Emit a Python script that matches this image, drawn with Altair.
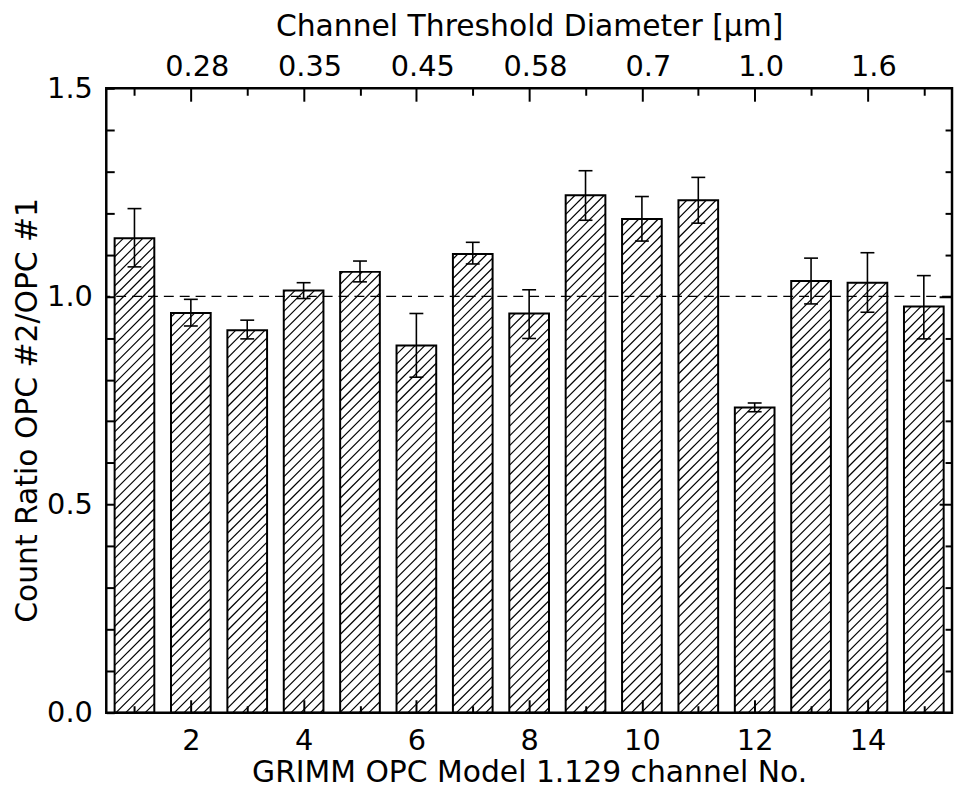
import math
import altair as alt
import pandas as pd

# ---------------- data ----------------
channels = list(range(1, 16))
ratio = [1.140, 0.960, 0.919, 1.014, 1.059, 0.882, 1.102, 0.959,
         1.243, 1.186, 1.231, 0.733, 1.037, 1.033, 0.976]
err_low = [1.071, 0.929, 0.898, 0.995, 1.035, 0.806, 1.078, 0.899,
           1.183, 1.133, 1.176, 0.723, 0.982, 0.962, 0.898]
err_high = [1.211, 0.993, 0.943, 1.033, 1.085, 0.959, 1.130, 1.016,
            1.302, 1.240, 1.286, 0.744, 1.092, 1.105, 1.050]
diam_channels = [2, 4, 6, 8, 10, 12, 14]
diam_labels = ["0.28", "0.35", "0.45", "0.58", "0.7", "1.0", "1.6"]
major_channels = [2, 4, 6, 8, 10, 12, 14]
minor_channels = [1, 3, 5, 7, 9, 11, 13, 15]
ref_level = [1.0]

# ---------------- layout / style ----------------
W, H = 852, 629
X_DOM = [0.5, 15.5]
Y_DOM = [0.0, 1.5]
BAR_HALF = 0.352          # half bar width, channel units
HATCH_PX = 9.8            # hatch spacing (px)
FONT = "DejaVu Sans"
LBL = 29
TTL = 30

bars = pd.DataFrame({"channel": channels, "ratio": ratio,
                     "low": err_low, "high": err_high})
bars["x0"] = bars["channel"] - BAR_HALF
bars["x1"] = bars["channel"] + BAR_HALF
bars["zero"] = 0.0

caps = pd.DataFrame({"channel": channels * 2, "cap": err_low + err_high})

# hatch segments ("/" at 45 degrees) clipped to each bar
sx = W / (X_DOM[1] - X_DOM[0])
sy = H / (Y_DOM[1] - Y_DOM[0])
rows = []
for c, r in zip(channels, ratio):
    X0 = (c - BAR_HALF - X_DOM[0]) * sx
    X1 = (c + BAR_HALF - X_DOM[0]) * sx
    Hp = r * sy
    k0 = math.floor((X0 - Hp) / HATCH_PX)
    k1 = math.ceil(X1 / HATCH_PX)
    for k in range(k0, k1 + 1):
        off = k * HATCH_PX
        xa = max(X0, off)
        xb = min(X1, off + Hp)
        if xb - xa > 0.3:
            rows.append({"hx": X_DOM[0] + xa / sx, "hx2": X_DOM[0] + xb / sx,
                         "hy": (xa - off) / sy, "hy2": (xb - off) / sy})
hatch = pd.DataFrame(rows)

xs = alt.Scale(domain=X_DOM, nice=False, zero=False)
ys = alt.Scale(domain=Y_DOM, nice=False, zero=False)

y_ticks_all = [round(i * 0.1, 1) for i in range(16)]
y_minor = [v for v in y_ticks_all if abs(v * 2 - round(v * 2)) > 1e-6]
y_major_right = [0.5, 1.0]

top_expr = "[%s][indexof([%s], datum.value)]" % (
    ",".join("'%s'" % s for s in diam_labels),
    ",".join(str(v) for v in diam_channels))
left_expr = "abs(datum.value*2 - round(datum.value*2)) < 0.001 ? format(datum.value, '.1f') : ''"

common = dict(grid=False, domain=False, tickColor="black", tickWidth=2,
              labelFont=FONT, labelFontSize=LBL, labelColor="black",
              titleFont=FONT, titleFontSize=TTL, titleFontWeight="normal",
              titleColor="black", zindex=2)

ax_bottom_major = alt.Axis(orient="bottom", values=major_channels, tickSize=13, offset=-13,
                           format="d", labelPadding=37, labelBaseline="alphabetic",
                           labelFlush=False,
                           title="GRIMM OPC Model 1.129 channel No.",
                           titleY=82, titleBaseline="alphabetic", **common)
ax_bottom_minor = alt.Axis(orient="bottom", values=minor_channels, tickSize=7, offset=-7,
                           labels=False, title=None, **common)
ax_top_major = alt.Axis(orient="top", values=diam_channels, tickSize=13, offset=-13,
                        labelExpr=top_expr, labelPadding=13, labelBaseline="alphabetic",
                        labelOffset=6, labelFlush=False,
                        title="Channel Threshold Diameter [μm]",
                        titleY=-66, titleBaseline="alphabetic", **common)
ax_top_minor = alt.Axis(orient="top", values=minor_channels, tickSize=7, offset=-7,
                        labels=False, title=None, **common)
ax_left = alt.Axis(orient="left", values=y_ticks_all, tickSize=8, offset=-8,
                   labelExpr=left_expr, labelPadding=14, labelFlush=False,
                   title="Count Ratio OPC #2/OPC #1", titleAngle=270,
                   titleX=-78, titleY=324, titleBaseline="alphabetic",
                   titleAlign="center", **common)
ax_right_minor = alt.Axis(orient="right", values=y_minor, tickSize=7, offset=-7,
                          labels=False, title=None, **common)
ax_right_major = alt.Axis(orient="right", values=y_major_right, tickSize=13, offset=-13,
                          labels=False, title=None, **common)

hatch_layer = alt.Chart(hatch).mark_rule(color="black", strokeWidth=1.2).encode(
    x=alt.X("hx:Q", scale=xs, axis=ax_bottom_major),
    x2="hx2:Q",
    y=alt.Y("hy:Q", scale=ys, axis=ax_left),
    y2="hy2:Q",
)

outline_layer = alt.Chart(bars).mark_rect(fillOpacity=0, stroke="black", strokeWidth=2).encode(
    x=alt.X("x0:Q", scale=xs, axis=ax_bottom_minor),
    x2="x1:Q",
    y=alt.Y("ratio:Q", scale=ys, axis=ax_right_minor),
    y2="zero:Q",
)

ref_layer = alt.Chart(pd.DataFrame({"ref": ref_level})).mark_rule(
    color="black", strokeWidth=1.3, strokeDash=[10, 6]).encode(
    y=alt.Y("ref:Q", scale=ys, axis=None),
)

err_layer = alt.Chart(bars).mark_rule(color="black", strokeWidth=1.6).encode(
    x=alt.X("channel:Q", scale=xs, axis=ax_top_major),
    y=alt.Y("low:Q", scale=ys, axis=ax_right_major),
    y2="high:Q",
)

cap_layer = alt.Chart(caps).mark_tick(orient="horizontal", size=14, thickness=1.6,
                                      color="black", opacity=1).encode(
    x=alt.X("channel:Q", scale=xs, axis=ax_top_minor),
    y=alt.Y("cap:Q", scale=ys, axis=None),
)

chart = alt.layer(hatch_layer, outline_layer, ref_layer, err_layer, cap_layer).resolve_axis(
    x="independent", y="independent"
).properties(
    width=W, height=H,
    padding={"left": 99, "top": 78, "right": 2, "bottom": 76},
    autosize=alt.AutoSizeParams(type="none"),
    background="white",
).configure_view(stroke="black", strokeWidth=2.5)

chart.save("out.html", embed_options={"renderer": "svg", "actions": False})
